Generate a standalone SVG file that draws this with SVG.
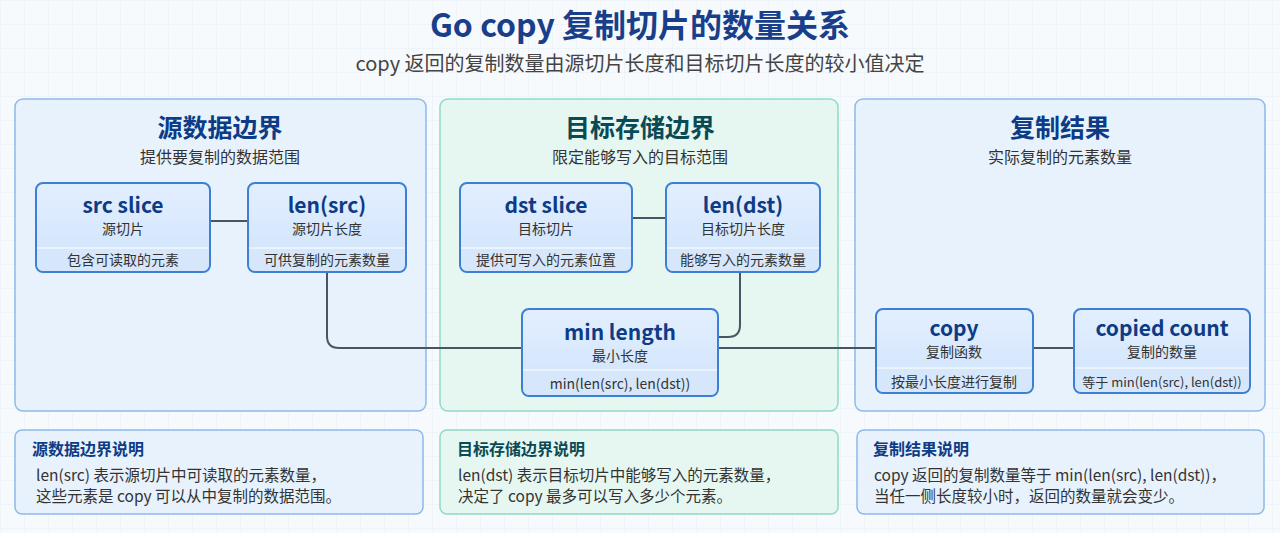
<svg xmlns="http://www.w3.org/2000/svg" width="1280" height="533" viewBox="0 0 1280 533">
<defs>
<pattern id="grid" width="24" height="24" patternUnits="userSpaceOnUse"><path d="M24 0H0V24" fill="none" stroke="#e6edf5" stroke-width="1"/></pattern>
<linearGradient id="nb" x1="0" y1="0" x2="0" y2="1"><stop offset="0" stop-color="#e3efff"/><stop offset="1" stop-color="#cfe3fb"/></linearGradient>
</defs>
<style>
.t{font-family:"Noto Sans CJK SC","Noto Sans",sans-serif}
.pb{fill:#e8f2fd;stroke:#8fb9ea;stroke-width:1.5}
.pg{fill:#e6f7f2;stroke:#8fdcc2;stroke-width:1.5}
.nd{fill:url(#nb);stroke:#3c7fd4;stroke-width:2}
.ft{fill:#d6e7fb}
.h{font-weight:700;fill:#0d3b85;font-size:25px}
.hg{font-weight:700;fill:#0a4a55;font-size:25px}
.s{fill:#333;font-size:16px}
.nt{font-weight:700;fill:#0d3b85;font-size:21px}
.ns{fill:#333;font-size:14px}
.nf{fill:#333;font-size:14px}
.bt{font-weight:700;fill:#0d3b85;font-size:16px}
.bb{fill:#333;font-size:15.5px}
.c{fill:none;stroke:#4a5563;stroke-width:2}
</style>
<rect width="1280" height="533" fill="#f7fafd"/>
<rect width="1280" height="533" fill="url(#grid)"/>
<text class="t" x="640" y="37" text-anchor="middle" font-size="32" font-weight="700" fill="#1a3f8a">Go copy 复制切片的数量关系</text>
<text class="t" x="640" y="71" text-anchor="middle" font-size="20" fill="#444">copy 返回的复制数量由源切片长度和目标切片长度的较小值决定</text>

<g id="panel-src"><rect class="pb" x="15" y="99" width="411" height="312" rx="8"/>
<text class="t h" x="220" y="137" text-anchor="middle">源数据边界</text>
<text class="t s" x="220" y="163" text-anchor="middle">提供要复制的数据范围</text></g>
<g id="panel-dst"><rect class="pg" x="440" y="99" width="398" height="312" rx="8"/>
<text class="t hg" x="640" y="137" text-anchor="middle">目标存储边界</text>
<text class="t s" x="640" y="163" text-anchor="middle">限定能够写入的目标范围</text></g>
<g id="panel-res"><rect class="pb" x="855" y="99" width="410" height="312" rx="8"/>
<text class="t h" x="1060" y="137" text-anchor="middle">复制结果</text>
<text class="t s" x="1060" y="163" text-anchor="middle">实际复制的元素数量</text></g>

<g id="connectors">
<path class="c" d="M210 221H248"/>
<path class="c" d="M632 218H666"/>
<path class="c" d="M327 272V336Q327 348 339 348H522"/>
<path class="c" d="M740 272V325Q740 337 728 337H718"/>
<path class="c" d="M718 348H876"/>
<path class="c" d="M1033 348H1074"/>
</g>

<g id="src-slice"><rect class="nd" x="36" y="183" width="174" height="89" rx="7"/>
<path class="ft" d="M37 248H209V264Q209 271 202 271H44Q37 271 37 264Z"/><line x1="37" y1="248" x2="209" y2="248" stroke="#fff"/>
<text class="t nt" x="123" y="213" text-anchor="middle">src slice</text>
<text class="t ns" x="123" y="234" text-anchor="middle">源切片</text>
<text class="t nf" x="123" y="265" text-anchor="middle">包含可读取的元素</text></g>
<g id="len-src"><rect class="nd" x="248" y="183" width="158" height="89" rx="7"/>
<path class="ft" d="M249 248H405V264Q405 271 398 271H256Q249 271 249 264Z"/><line x1="249" y1="248" x2="405" y2="248" stroke="#fff"/>
<text class="t nt" x="327" y="213" text-anchor="middle">len(src)</text>
<text class="t ns" x="327" y="234" text-anchor="middle">源切片长度</text>
<text class="t nf" x="327" y="265" text-anchor="middle">可供复制的元素数量</text></g>
<g id="dst-slice"><rect class="nd" x="460" y="183" width="172" height="89" rx="7"/>
<path class="ft" d="M461 248H631V264Q631 271 624 271H468Q461 271 461 264Z"/><line x1="461" y1="248" x2="631" y2="248" stroke="#fff"/>
<text class="t nt" x="546" y="213" text-anchor="middle">dst slice</text>
<text class="t ns" x="546" y="234" text-anchor="middle">目标切片</text>
<text class="t nf" x="546" y="265" text-anchor="middle">提供可写入的元素位置</text></g>
<g id="len-dst"><rect class="nd" x="666" y="183" width="154" height="89" rx="7"/>
<path class="ft" d="M667 248H819V264Q819 271 812 271H674Q667 271 667 264Z"/><line x1="667" y1="248" x2="819" y2="248" stroke="#fff"/>
<text class="t nt" x="743" y="213" text-anchor="middle">len(dst)</text>
<text class="t ns" x="743" y="234" text-anchor="middle">目标切片长度</text>
<text class="t nf" x="743" y="265" text-anchor="middle">能够写入的元素数量</text></g>
<g id="min-length"><rect class="nd" x="522" y="309" width="196" height="87" rx="7"/>
<path class="ft" d="M523 370H717V388Q717 395 710 395H530Q523 395 523 388Z"/><line x1="523" y1="370" x2="717" y2="370" stroke="#fff"/>
<text class="t nt" x="620" y="340" text-anchor="middle">min length</text>
<text class="t ns" x="620" y="361" text-anchor="middle">最小长度</text>
<text class="t nf" x="620" y="389" text-anchor="middle">min(len(src), len(dst))</text></g>
<g id="copy"><rect class="nd" x="876" y="309" width="157" height="84" rx="7"/>
<path class="ft" d="M877 368H1032V385Q1032 392 1025 392H884Q877 392 877 385Z"/><line x1="877" y1="368" x2="1032" y2="368" stroke="#fff"/>
<text class="t nt" x="954" y="336" text-anchor="middle">copy</text>
<text class="t ns" x="954" y="357" text-anchor="middle">复制函数</text>
<text class="t nf" x="954" y="387" text-anchor="middle">按最小长度进行复制</text></g>
<g id="copied-count"><rect class="nd" x="1074" y="309" width="176" height="84" rx="7"/>
<path class="ft" d="M1075 368H1249V385Q1249 392 1242 392H1082Q1075 392 1075 385Z"/><line x1="1075" y1="368" x2="1249" y2="368" stroke="#fff"/>
<text class="t nt" x="1162" y="336" text-anchor="middle">copied count</text>
<text class="t ns" x="1162" y="357" text-anchor="middle">复制的数量</text>
<text class="t nf" x="1162" y="387" text-anchor="middle" style="font-size:13px">等于 min(len(src), len(dst))</text></g>

<g id="note-src"><rect class="pb" x="15" y="430" width="408" height="84" rx="7"/>
<text class="t bt" x="32" y="455">源数据边界说明</text>
<text class="t bb" x="36" y="481">len(src) 表示源切片中可读取的元素数量，</text>
<text class="t bb" x="36" y="502">这些元素是 copy 可以从中复制的数据范围。</text></g>
<g id="note-dst"><rect class="pg" x="440" y="430" width="398" height="84" rx="7"/>
<text class="t bt" x="457" y="455" style="fill:#0a4a55">目标存储边界说明</text>
<text class="t bb" x="458" y="481">len(dst) 表示目标切片中能够写入的元素数量，</text>
<text class="t bb" x="458" y="502">决定了 copy 最多可以写入多少个元素。</text></g>
<g id="note-res"><rect class="pb" x="857" y="430" width="407" height="84" rx="7"/>
<text class="t bt" x="873" y="455">复制结果说明</text>
<text class="t bb" x="874" y="481">copy 返回的复制数量等于 min(len(src), len(dst))，</text>
<text class="t bb" x="874" y="502">当任一侧长度较小时，返回的数量就会变少。</text></g>
</svg>
